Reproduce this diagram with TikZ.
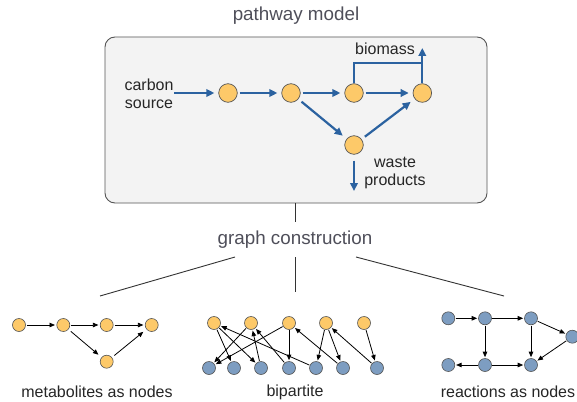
\documentclass[tikz,border=0pt]{standalone}
\usepackage{fontspec}
\setmainfont{Liberation Sans}
\usetikzlibrary{arrows.meta}
\definecolor{orfill}{HTML}{FDC969}
\definecolor{blfill}{HTML}{7D9DC1}
\definecolor{arblue}{HTML}{2B62A0}
\definecolor{ttl}{HTML}{4F4F5A}
\definecolor{edgegray}{HTML}{555555}
\definecolor{boxfill}{HTML}{F3F3F3}
\tikzset{
  bignode/.style={circle, draw=edgegray, line width=0.7pt, fill=orfill, minimum size=18.6pt, inner sep=0pt},
  onode/.style={circle, draw=edgegray, line width=0.6pt, fill=orfill, minimum size=13pt, inner sep=0pt},
  bnode/.style={circle, draw=edgegray, line width=0.6pt, fill=blfill, minimum size=13pt, inner sep=0pt},
  bluearr/.style={draw=arblue, line width=2.2pt, -{Triangle[length=8pt,width=7.5pt]}},
  blueline/.style={draw=arblue, line width=2.2pt},
  smallarr/.style={draw=black, line width=0.8pt, -{Triangle[length=5.5pt,width=4.5pt]}},
  title/.style={text=ttl, font=\fontsize{18.8}{20}\selectfont, inner sep=0pt},
  lbl/.style={text=black!85, font=\fontsize{16}{18}\selectfont, inner sep=0pt, align=center},
  box/.style={draw=edgegray, line width=0.9pt, fill=boxfill, rounded corners=10pt, minimum width=382pt, minimum height=166pt, inner sep=0pt},
  conn/.style={draw=black!80, line width=0.9pt}
}
\begin{document}
\begin{tikzpicture}[x=1pt,y=-1pt]
\useasboundingbox (0,0) rectangle (577,401);
\fill[white] (0,0) rectangle (577,401);
% titles
\node[title] (pm) at (296,16) {pathway model};
\node[box] (box) at (296,120) {};
% pathway model
\node[lbl, align=center] (cs) at (149,94) {carbon\\source};
\node[bignode] (n1) at (228,93) {};
\node[bignode] (n2) at (291,93) {};
\node[bignode] (n3) at (354,93) {};
\node[bignode] (n4) at (422.3,93) {};
\node[bignode] (n5) at (354,145) {};
\node[lbl] (bio) at (385,49) {biomass};
\node[lbl] (waste) at (395,173) {waste\\products};
\coordinate (csend) at (174,93);
\coordinate (bm) at (422.3,63);
\coordinate (bmtop) at (422.3,48);
\coordinate (wt) at (354,191);
\draw[bluearr, shorten >=4pt] (csend) -- (n1);
\draw[bluearr, shorten <=2pt, shorten >=4pt] (n1) -- (n2);
\draw[bluearr, shorten <=2pt, shorten >=4pt] (n2) -- (n3);
\draw[bluearr, shorten <=2pt, shorten >=4pt] (n3) -- (n4);
\draw[bluearr, shorten <=4pt, shorten >=5pt] (n2) -- (n5);
\draw[bluearr, shorten <=4pt, shorten >=5pt] (n5) -- (n4);
\draw[blueline] (n3.north) |- (bm);
\draw[bluearr] (n4.north) -- (bmtop);
\draw[bluearr, shorten <=6pt] (n5.south) -- (wt);
% construction
\node[title] (gc) at (295,240) {graph construction};
\coordinate (b1) at (295,203);
\coordinate (b2) at (295,222);
\draw[conn] (b1) -- (b2);
\coordinate (c0) at (295,257);
\coordinate (cm) at (295,292);
\coordinate (cl0) at (235,257);
\coordinate (cl) at (100,296);
\coordinate (cr0) at (356,257);
\coordinate (cr) at (504,296);
\draw[conn] (c0) -- (cm);
\draw[conn] (cl0) -- (cl);
\draw[conn] (cr0) -- (cr);
% metabolites as nodes
\node[onode] (a1) at (19,325) {};
\node[onode] (a2) at (63.3,325) {};
\node[onode] (a3) at (106.7,325) {};
\node[onode] (a4) at (151.7,325) {};
\node[onode] (a5) at (106.7,361.7) {};
\draw[smallarr, shorten <=1pt, shorten >=1.5pt] (a1) -- (a2);
\draw[smallarr, shorten <=1pt, shorten >=1.5pt] (a2) -- (a3);
\draw[smallarr, shorten <=1pt, shorten >=1.5pt] (a3) -- (a4);
\draw[smallarr, shorten <=3pt, shorten >=4pt] (a2) -- (a5);
\draw[smallarr, shorten <=3pt, shorten >=4pt] (a5) -- (a4);
\node[lbl] (lm) at (97,392) {metabolites as nodes};
% bipartite
\node[onode] (t1) at (214,323) {};
\node[onode] (t2) at (251,323) {};
\node[onode] (t3) at (289,323) {};
\node[onode] (t4) at (326,323) {};
\node[onode] (t5) at (364,323) {};
\node[bnode] (u1) at (209,368) {};
\node[bnode] (u2) at (234,368) {};
\node[bnode] (u3) at (261,368) {};
\node[bnode] (u4) at (289,368) {};
\node[bnode] (u5) at (316,368) {};
\node[bnode] (u6) at (343,368) {};
\node[bnode] (u7) at (377,368) {};
\tikzset{bip/.style={smallarr, shorten <=0.5pt, shorten >=1pt}}
\draw[bip] (t1) -- (u2);
\draw[bip] (t1) -- (u3);
\draw[bip] (u5) -- (t1);
\draw[bip] (t2) -- (u1);
\draw[bip] (u3) -- (t2);
\draw[bip] (u4) -- (t2);
\draw[bip] (t3) -- (u4);
\draw[bip] (t3) -- (u1);
\draw[bip] (u6) -- (t3);
\draw[bip] (t4) -- (u5);
\draw[bip] (t4) -- (u6);
\draw[bip] (u7) -- (t4);
\draw[bip] (t5) -- (u7);
\node[lbl] (lb) at (295,392) {bipartite};
% reactions as nodes
\node[bnode] (r1) at (448.3,318.3) {};
\node[bnode] (r2) at (485,318.3) {};
\node[bnode] (r3) at (531,318.3) {};
\node[bnode] (r4) at (572.3,336.7) {};
\node[bnode] (r5) at (448.3,365) {};
\node[bnode] (r6) at (485,365) {};
\node[bnode] (r7) at (531,365) {};
\tikzset{rea/.style={smallarr, shorten <=0.5pt, shorten >=1pt}}
\draw[rea] (r1) -- (r2);
\draw[rea] (r2) -- (r3);
\draw[rea] (r3) -- (r4);
\draw[rea] (r4) -- (r7);
\draw[rea] (r2) -- (r6);
\draw[rea] (r3) -- (r7);
\draw[rea] (r6) -- (r7);
\draw[rea] (r6) -- (r5);
\node[lbl] (lr) at (508,392) {reactions as nodes};
\end{tikzpicture}
\end{document}
